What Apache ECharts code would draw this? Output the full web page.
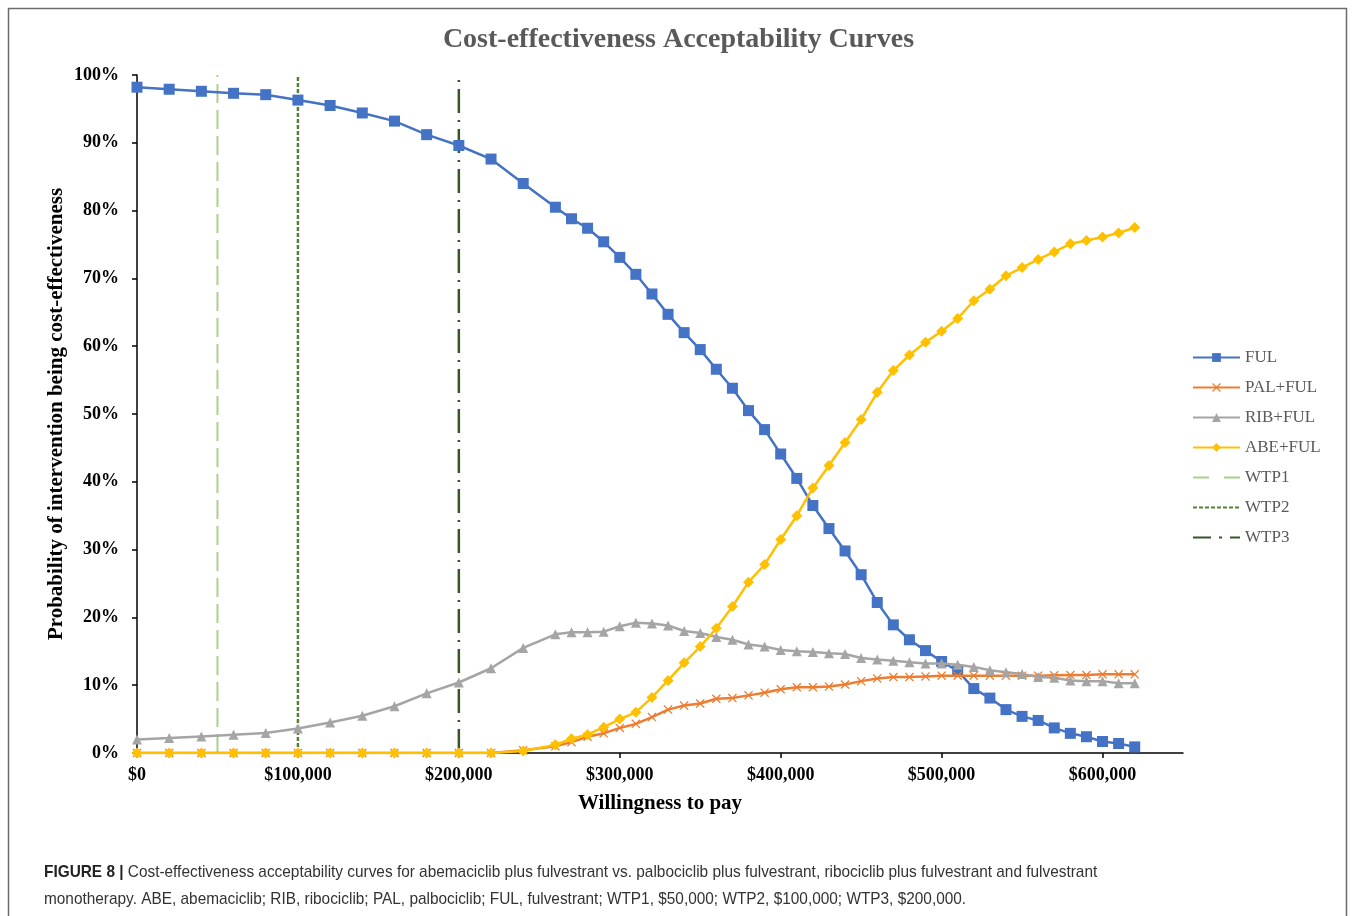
<!DOCTYPE html>
<html>
<head>
<meta charset="utf-8">
<script src="https://cdn.jsdelivr.net/npm/echarts@6.0.0/dist/echarts.min.js"></script>
<style>
  html, body { margin: 0; padding: 0; background: #fff; }
  #chart { width: 1357px; height: 916px; }
</style>
</head>
<body>
<div id="chart"></div>
<script>
// willingness to pay ($)
const wtp = [
  0, 20000, 40000, 60000, 80000, 100000, 120000, 140000, 160000, 180000, 200000, 220000, 240000,
  260000, 270000, 280000, 290000, 300000, 310000, 320000, 330000, 340000, 350000, 360000, 370000,
  380000, 390000, 400000, 410000, 420000, 430000, 440000, 450000, 460000, 470000, 480000, 490000,
  500000, 510000, 520000, 530000, 540000, 550000, 560000, 570000, 580000, 590000, 600000, 610000, 620000,
];

// probability of being cost-effective (%)
const ful = [
  98.2, 97.9, 97.6, 97.3, 97.1, 96.3, 95.5, 94.4, 93.2, 91.2, 89.6, 87.6, 84.0,
  80.5, 78.8, 77.4, 75.4, 73.1, 70.6, 67.7, 64.7, 62.0, 59.5, 56.6, 53.8,
  50.5, 47.7, 44.1, 40.5, 36.5, 33.1, 29.8, 26.3, 22.2, 18.9, 16.7, 15.1,
  13.5, 12.1, 9.5, 8.1, 6.4, 5.4, 4.8, 3.7, 2.9, 2.4, 1.7, 1.4, 0.9,
];
const pal = [
  0, 0, 0, 0, 0, 0, 0, 0, 0, 0, 0, 0, 0.4,
  1.0, 1.6, 2.4, 2.9, 3.7, 4.3, 5.3, 6.4, 7.0, 7.3, 8.0, 8.1,
  8.5, 8.9, 9.4, 9.7, 9.7, 9.8, 10.1, 10.6, 11.0, 11.2, 11.2, 11.3,
  11.4, 11.4, 11.4, 11.4, 11.4, 11.4, 11.4, 11.45, 11.5, 11.5, 11.6, 11.6, 11.6,
];
const rib = [
  2.0, 2.2, 2.45, 2.7, 2.95, 3.6, 4.5, 5.5, 6.9, 8.8, 10.4, 12.5, 15.5,
  17.5, 17.8, 17.8, 17.9, 18.7, 19.2, 19.1, 18.8, 18.0, 17.7, 17.1, 16.7,
  16.0, 15.7, 15.2, 15.0, 14.9, 14.7, 14.6, 14.0, 13.8, 13.6, 13.4, 13.2,
  13.2, 13.0, 12.7, 12.2, 11.9, 11.65, 11.2, 11.1, 10.7, 10.6, 10.6, 10.3, 10.3,
];
const abe = [
  0, 0, 0, 0, 0, 0, 0, 0, 0, 0, 0, 0, 0.3,
  1.2, 2.1, 2.7, 3.8, 5.0, 6.0, 8.2, 10.7, 13.3, 15.7, 18.4, 21.6,
  25.2, 27.8, 31.5, 35.0, 39.1, 42.4, 45.8, 49.2, 53.2, 56.4, 58.7, 60.6,
  62.2, 64.1, 66.7, 68.4, 70.4, 71.6, 72.8, 73.9, 75.1, 75.6, 76.1, 76.7, 77.5,
];

// thresholds
const wtpNames = ["WTP1", "WTP2", "WTP3"];
const wtpValues = [50000, 100000, 200000];

const xTicks = [0, 100000, 200000, 300000, 400000, 500000, 600000];

const serif = "'Liberation Serif', 'Times New Roman', serif";

const chart = echarts.init(document.getElementById("chart"));

const toPoints = (arr) => wtp.map((x, i) => [x, arr[i]]);
const vline = (x) => [[x, 0], [x, 100]];

const crossPath = "path://M1,0L5,4L9,0L10,1L6,5L10,9L9,10L5,6L1,10L0,9L4,5L0,1Z";

// the threshold lines get no marker in the legend
const noMarker = { opacity: 0 };

const option = {
  animation: false,
  title: {
    text: "Cost-effectiveness Acceptability Curves",
    left: "center",
    top: 26,
    padding: 0,
    textStyle: {
      fontFamily: serif,
      fontSize: 28,
      fontWeight: "bold",
      color: "#595959",
    },
  },
  legend: {
    orient: "vertical",
    left: 1192,
    top: 349,
    padding: 0,
    itemWidth: 47,
    itemHeight: 11,
    itemGap: 13,
    data: [
      "FUL",
      "PAL+FUL",
      "RIB+FUL",
      "ABE+FUL",
      { name: wtpNames[0], itemStyle: noMarker, lineStyle: { type: [16, 15] } },
      { name: wtpNames[1], itemStyle: noMarker },
      { name: wtpNames[2], itemStyle: noMarker, lineStyle: { type: [18, 8, 3, 8] } },
    ],
    textStyle: {
      fontFamily: serif,
      fontSize: 17,
      color: "#595959",
    },
  },
  grid: {
    left: 137,
    right: 174,
    top: 75,
    bottom: 163,
  },
  xAxis: {
    type: "value",
    min: 0,
    max: 650000,
    interval: 100000,
    name: "Willingness to pay",
    nameLocation: "middle",
    nameGap: 40,
    nameTextStyle: {
      fontFamily: serif,
      fontSize: 21,
      fontWeight: "bold",
      color: "#000",
    },
    splitLine: { show: false },
    axisLine: { lineStyle: { color: "#000", width: 1.5 } },
    axisTick: {
      show: true,
      length: 5,
      customValues: xTicks,
      lineStyle: { color: "#000", width: 1.5 },
    },
    axisLabel: {
      customValues: xTicks,
      margin: 13,
      fontFamily: serif,
      fontSize: 18,
      fontWeight: "bold",
      color: "#000",
      formatter: (v) => "$" + v.toLocaleString("en-US"),
    },
  },
  yAxis: {
    type: "value",
    min: 0,
    max: 100,
    interval: 10,
    name: "Probability of intervention being cost-effectiveness",
    nameLocation: "middle",
    nameGap: 70,
    nameMoveOverlap: false,
    nameTextStyle: {
      fontFamily: serif,
      fontSize: 21,
      fontWeight: "bold",
      color: "#000",
    },
    splitLine: { show: false },
    axisLine: { show: true, lineStyle: { color: "#000", width: 1.5 } },
    axisTick: { show: true, length: 5, lineStyle: { color: "#000", width: 1.5 } },
    axisLabel: {
      margin: 18,
      fontFamily: serif,
      fontSize: 18,
      fontWeight: "bold",
      color: "#000",
      formatter: "{value}%",
    },
  },
  series: [
    {
      name: wtpNames[0],
      type: "line",
      data: vline(wtpValues[0]),
      symbol: "none",
      z: 1,
      lineStyle: { color: "#A9D18E", width: 2, type: [19, 7] },
      itemStyle: { color: "#A9D18E" },
    },
    {
      name: wtpNames[1],
      type: "line",
      data: vline(wtpValues[1]),
      symbol: "none",
      z: 1,
      lineStyle: { color: "#548235", width: 2.5, type: [4, 2] },
      itemStyle: { color: "#548235" },
    },
    {
      name: wtpNames[2],
      type: "line",
      data: vline(wtpValues[2]),
      symbol: "none",
      z: 1,
      lineStyle: { color: "#375623", width: 2.5, type: [24, 7, 2, 7] },
      itemStyle: { color: "#375623" },
    },
    {
      name: "FUL",
      type: "line",
      data: toPoints(ful),
      symbol: "rect",
      symbolSize: 11,
      z: 3,
      lineStyle: { color: "#4472C4", width: 2.5 },
      itemStyle: { color: "#4472C4" },
    },
    {
      name: "PAL+FUL",
      type: "line",
      data: toPoints(pal),
      symbol: crossPath,
      symbolSize: 9,
      z: 4,
      lineStyle: { color: "#ED7D31", width: 2.5 },
      itemStyle: { color: "#ED7D31" },
    },
    {
      name: "RIB+FUL",
      type: "line",
      data: toPoints(rib),
      symbol: "triangle",
      symbolSize: 10,
      z: 4,
      lineStyle: { color: "#A5A5A5", width: 2.5 },
      itemStyle: { color: "#A5A5A5" },
    },
    {
      name: "ABE+FUL",
      type: "line",
      data: toPoints(abe),
      symbol: "diamond",
      symbolSize: 11,
      z: 5,
      lineStyle: { color: "#FFC000", width: 2.5 },
      itemStyle: { color: "#FFC000" },
    },
  ],
  graphic: [
    {
      type: "rect",
      shape: { x: 8.5, y: 8.5, width: 1338, height: 940 },
      style: { fill: null, stroke: "#6b6b6b", lineWidth: 1.5 },
      silent: true,
    },
    {
      type: "text",
      x: 44,
      y: 859,
      scaleX: 0.905,
      style: {
        text:
          "{b|FIGURE 8 |} Cost-effectiveness acceptability curves for abemaciclib plus fulvestrant vs. palbociclib plus fulvestrant, ribociclib plus fulvestrant and fulvestrant\n" +
          "monotherapy. ABE, abemaciclib; RIB, ribociclib; PAL, palbociclib; FUL, fulvestrant; WTP1, $50,000; WTP2, $100,000; WTP3, $200,000.",
        font: "17px 'Liberation Sans', sans-serif",
        fill: "#333",
        lineHeight: 27,
        rich: {
          b: {
            fontFamily: "'Liberation Sans', sans-serif",
            fontSize: 17,
            fontWeight: "bold",
            fill: "#222",
          },
        },
      },
    },
  ],
};

chart.setOption(option);
window.addEventListener("resize", () => {
  chart.resize();
});
</script>
</body>
</html>
